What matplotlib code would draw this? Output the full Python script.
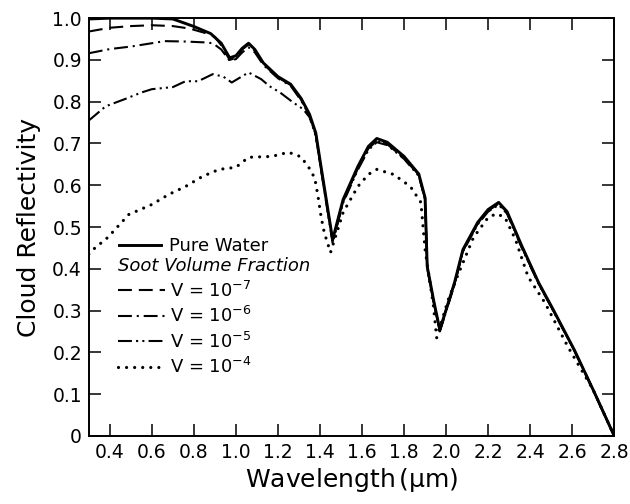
import matplotlib
matplotlib.use("Agg")
import matplotlib.pyplot as plt
from matplotlib.lines import Line2D
from matplotlib.ticker import FixedLocator, FuncFormatter

plt.rcParams["font.family"] = ["DejaVu Sans"]
plt.rcParams["lines.scale_dashes"] = False
plt.rcParams["mathtext.default"] = "regular"

# Reflectivity spectra of a water cloud, pure and with soot inclusions
wl_pure = [0.30, 0.40, 0.50, 0.60, 0.70, 0.80, 0.88, 0.93, 0.97, 1.00, 1.03, 1.06,
           1.09, 1.13, 1.20, 1.26, 1.31, 1.35, 1.38, 1.40, 1.43, 1.46, 1.51, 1.58,
           1.63, 1.67, 1.72, 1.80, 1.87, 1.90, 1.91, 1.94, 1.97, 2.04, 2.08, 2.15,
           2.20, 2.25, 2.29, 2.36, 2.44, 2.51, 2.61, 2.70, 2.80]
refl_pure = [0.998, 1.0, 1.0, 1.0, 0.998, 0.980, 0.963, 0.940, 0.905, 0.910, 0.928, 0.940,
             0.925, 0.893, 0.860, 0.842, 0.808, 0.770, 0.725, 0.660, 0.565, 0.470, 0.566, 0.645,
             0.693, 0.712, 0.703, 0.669, 0.627, 0.570, 0.406, 0.326, 0.254, 0.367, 0.446, 0.511,
             0.542, 0.559, 0.537, 0.455, 0.367, 0.302, 0.206, 0.110, 0.0]

wl_v7 = [0.30, 0.40, 0.50, 0.60, 0.70, 0.78, 0.85, 0.90, 0.93, 0.97, 1.00, 1.03, 1.06,
         1.09, 1.13, 1.20, 1.26, 1.31, 1.35, 1.38, 1.40, 1.43, 1.46, 1.51, 1.58,
         1.63, 1.67, 1.72, 1.80, 1.87, 1.90, 1.91, 1.94, 1.97, 2.04, 2.08, 2.15,
         2.20, 2.25, 2.29, 2.36, 2.44, 2.51, 2.61, 2.70, 2.80]
refl_v7 = [0.968, 0.977, 0.981, 0.983, 0.981, 0.975, 0.965, 0.955, 0.935, 0.900, 0.905, 0.925, 0.937,
           0.922, 0.890, 0.858, 0.840, 0.805, 0.768, 0.722, 0.655, 0.562, 0.468, 0.563, 0.642,
           0.690, 0.708, 0.700, 0.667, 0.625, 0.568, 0.404, 0.324, 0.252, 0.365, 0.444, 0.509,
           0.540, 0.557, 0.535, 0.453, 0.366, 0.301, 0.205, 0.110, 0.0]

wl_v6 = [0.30, 0.40, 0.50, 0.60, 0.66, 0.76, 0.85, 0.89, 0.93, 0.97, 1.00, 1.03, 1.06,
         1.09, 1.13, 1.20, 1.26, 1.31, 1.35, 1.38, 1.40, 1.43, 1.46, 1.51, 1.58,
         1.63, 1.67, 1.72, 1.80, 1.87, 1.90, 1.91, 1.94, 1.97, 2.04, 2.08, 2.15,
         2.20, 2.25, 2.29, 2.36, 2.44, 2.51, 2.61, 2.70, 2.80]
refl_v6 = [0.916, 0.926, 0.932, 0.940, 0.945, 0.944, 0.942, 0.940, 0.925, 0.898, 0.902, 0.918, 0.930,
           0.918, 0.888, 0.856, 0.838, 0.803, 0.766, 0.720, 0.655, 0.560, 0.466, 0.561, 0.640,
           0.688, 0.706, 0.698, 0.665, 0.624, 0.567, 0.403, 0.323, 0.251, 0.364, 0.443, 0.508,
           0.539, 0.556, 0.534, 0.452, 0.365, 0.300, 0.205, 0.110, 0.0]

wl_v5 = [0.30, 0.38, 0.47, 0.55, 0.60, 0.70, 0.76, 0.82, 0.89, 0.94, 0.98, 1.02, 1.06,
         1.12, 1.16, 1.21, 1.27, 1.32, 1.35, 1.38, 1.40, 1.43, 1.46, 1.51, 1.58,
         1.63, 1.67, 1.72, 1.80, 1.87, 1.90, 1.91, 1.94, 1.97, 2.04, 2.08, 2.15,
         2.20, 2.25, 2.29, 2.36, 2.44, 2.51, 2.61, 2.70, 2.80]
refl_v5 = [0.755, 0.789, 0.806, 0.822, 0.830, 0.835, 0.849, 0.849, 0.866, 0.860, 0.846, 0.858, 0.870,
           0.854, 0.837, 0.822, 0.799, 0.782, 0.763, 0.718, 0.652, 0.556, 0.462, 0.558, 0.637,
           0.684, 0.703, 0.696, 0.663, 0.622, 0.566, 0.402, 0.322, 0.250, 0.362, 0.441, 0.506,
           0.537, 0.553, 0.532, 0.450, 0.364, 0.299, 0.204, 0.109, 0.0]

wl_v4 = [0.30, 0.32, 0.39, 0.49, 0.60, 0.68, 0.76, 0.84, 0.92, 1.00, 1.06, 1.17, 1.25,
         1.31, 1.35, 1.375, 1.39, 1.405, 1.42, 1.45, 1.51, 1.58, 1.63, 1.67, 1.75,
         1.83, 1.88, 1.90, 1.94, 1.955, 2.01, 2.06, 2.13, 2.20, 2.24, 2.28, 2.33,
         2.39, 2.47, 2.58, 2.70, 2.80]
refl_v4 = [0.435, 0.446, 0.475, 0.530, 0.554, 0.578, 0.597, 0.621, 0.638, 0.643, 0.667, 0.669, 0.679,
           0.668, 0.640, 0.617, 0.575, 0.525, 0.487, 0.439, 0.535, 0.597, 0.626, 0.638, 0.626,
           0.597, 0.559, 0.446, 0.310, 0.235, 0.326, 0.390, 0.475, 0.523, 0.532, 0.523, 0.470,
           0.381, 0.319, 0.213, 0.110, 0.0]

x_ticks = [0.4, 0.6, 0.8, 1.0, 1.2, 1.4, 1.6, 1.8, 2.0, 2.2, 2.4, 2.6, 2.8]
y_ticks = [0.0, 0.1, 0.2, 0.3, 0.4, 0.5, 0.6, 0.7, 0.8, 0.9, 1.0]

fig = plt.figure(figsize=(6.3, 5.04), dpi=100)
ax = fig.add_axes([0.141, 0.135, 0.834, 0.829])

ink = "black"
ln_pure, = ax.plot(wl_pure, refl_pure, color=ink, lw=2.1, solid_joinstyle="round")
ln_v7, = ax.plot(wl_v7, refl_v7, color=ink, lw=1.5, dashes=(10, 5))
ln_v6, = ax.plot(wl_v6, refl_v6, color=ink, lw=1.5, dashes=(10, 3.5, 1.5, 3.5))
ln_v5, = ax.plot(wl_v5, refl_v5, color=ink, lw=1.5, dashes=(10, 3, 1.5, 3, 1.5, 3))
ln_v4, = ax.plot(wl_v4, refl_v4, color=ink, lw=2.3, dashes=(0.01, 5.8),
                 dash_capstyle="round")

ax.set_xlim(0.3, 2.8)
ax.set_ylim(0.0, 1.0)
ax.xaxis.set_major_locator(FixedLocator(x_ticks))
ax.yaxis.set_major_locator(FixedLocator(y_ticks))
ax.xaxis.set_major_formatter(FuncFormatter(lambda v, p: f"{v:.1f}"))
ax.yaxis.set_major_formatter(FuncFormatter(lambda v, p: "0" if abs(v) < 1e-9 else f"{v:.1f}"))
ax.tick_params(which="major", direction="in", length=8.5, width=1.1,
               top=True, right=True, labelsize=13.5, pad=5, colors=ink)
for sp in ax.spines.values():
    sp.set_linewidth(1.4)

ax.set_xlabel("Wavelength$\\,$(\u03bcm)", fontsize=18, labelpad=3)
ax.set_ylabel("Cloud Reflectivity", fontsize=18, labelpad=8)

leg1 = ax.legend([ln_pure], ["Pure Water"], loc="upper left",
                 bbox_to_anchor=(0.058, 0.475), frameon=False, fontsize=13,
                 handlelength=2.3, handletextpad=0.45, borderpad=0, borderaxespad=0)
ax.add_artist(leg1)

leg_handles = [Line2D([], [], color=ink, lw=1.5, dashes=(10, 5)),
               Line2D([], [], color=ink, lw=1.5, dashes=(10, 3.5, 1.5, 3.5)),
               Line2D([], [], color=ink, lw=1.5, dashes=(10, 3, 1.5, 3, 1.5, 3)),
               Line2D([], [], color=ink, lw=2.3, dashes=(0.01, 5.8), dash_capstyle="round")]
leg_labels = ["V = 10$^{-7}$", "V = 10$^{-6}$", "V = 10$^{-5}$", "V = 10$^{-4}$"]
leg2 = ax.legend(leg_handles, leg_labels, loc="upper left",
                 bbox_to_anchor=(0.055, 0.428), frameon=False, fontsize=13,
                 title="Soot Volume Fraction",
                 title_fontproperties={"size": 13, "style": "italic"},
                 alignment="left", handlelength=2.6, handletextpad=0.3,
                 labelspacing=0.3, borderpad=0, borderaxespad=0)

fig.savefig("out.png", dpi=100)
